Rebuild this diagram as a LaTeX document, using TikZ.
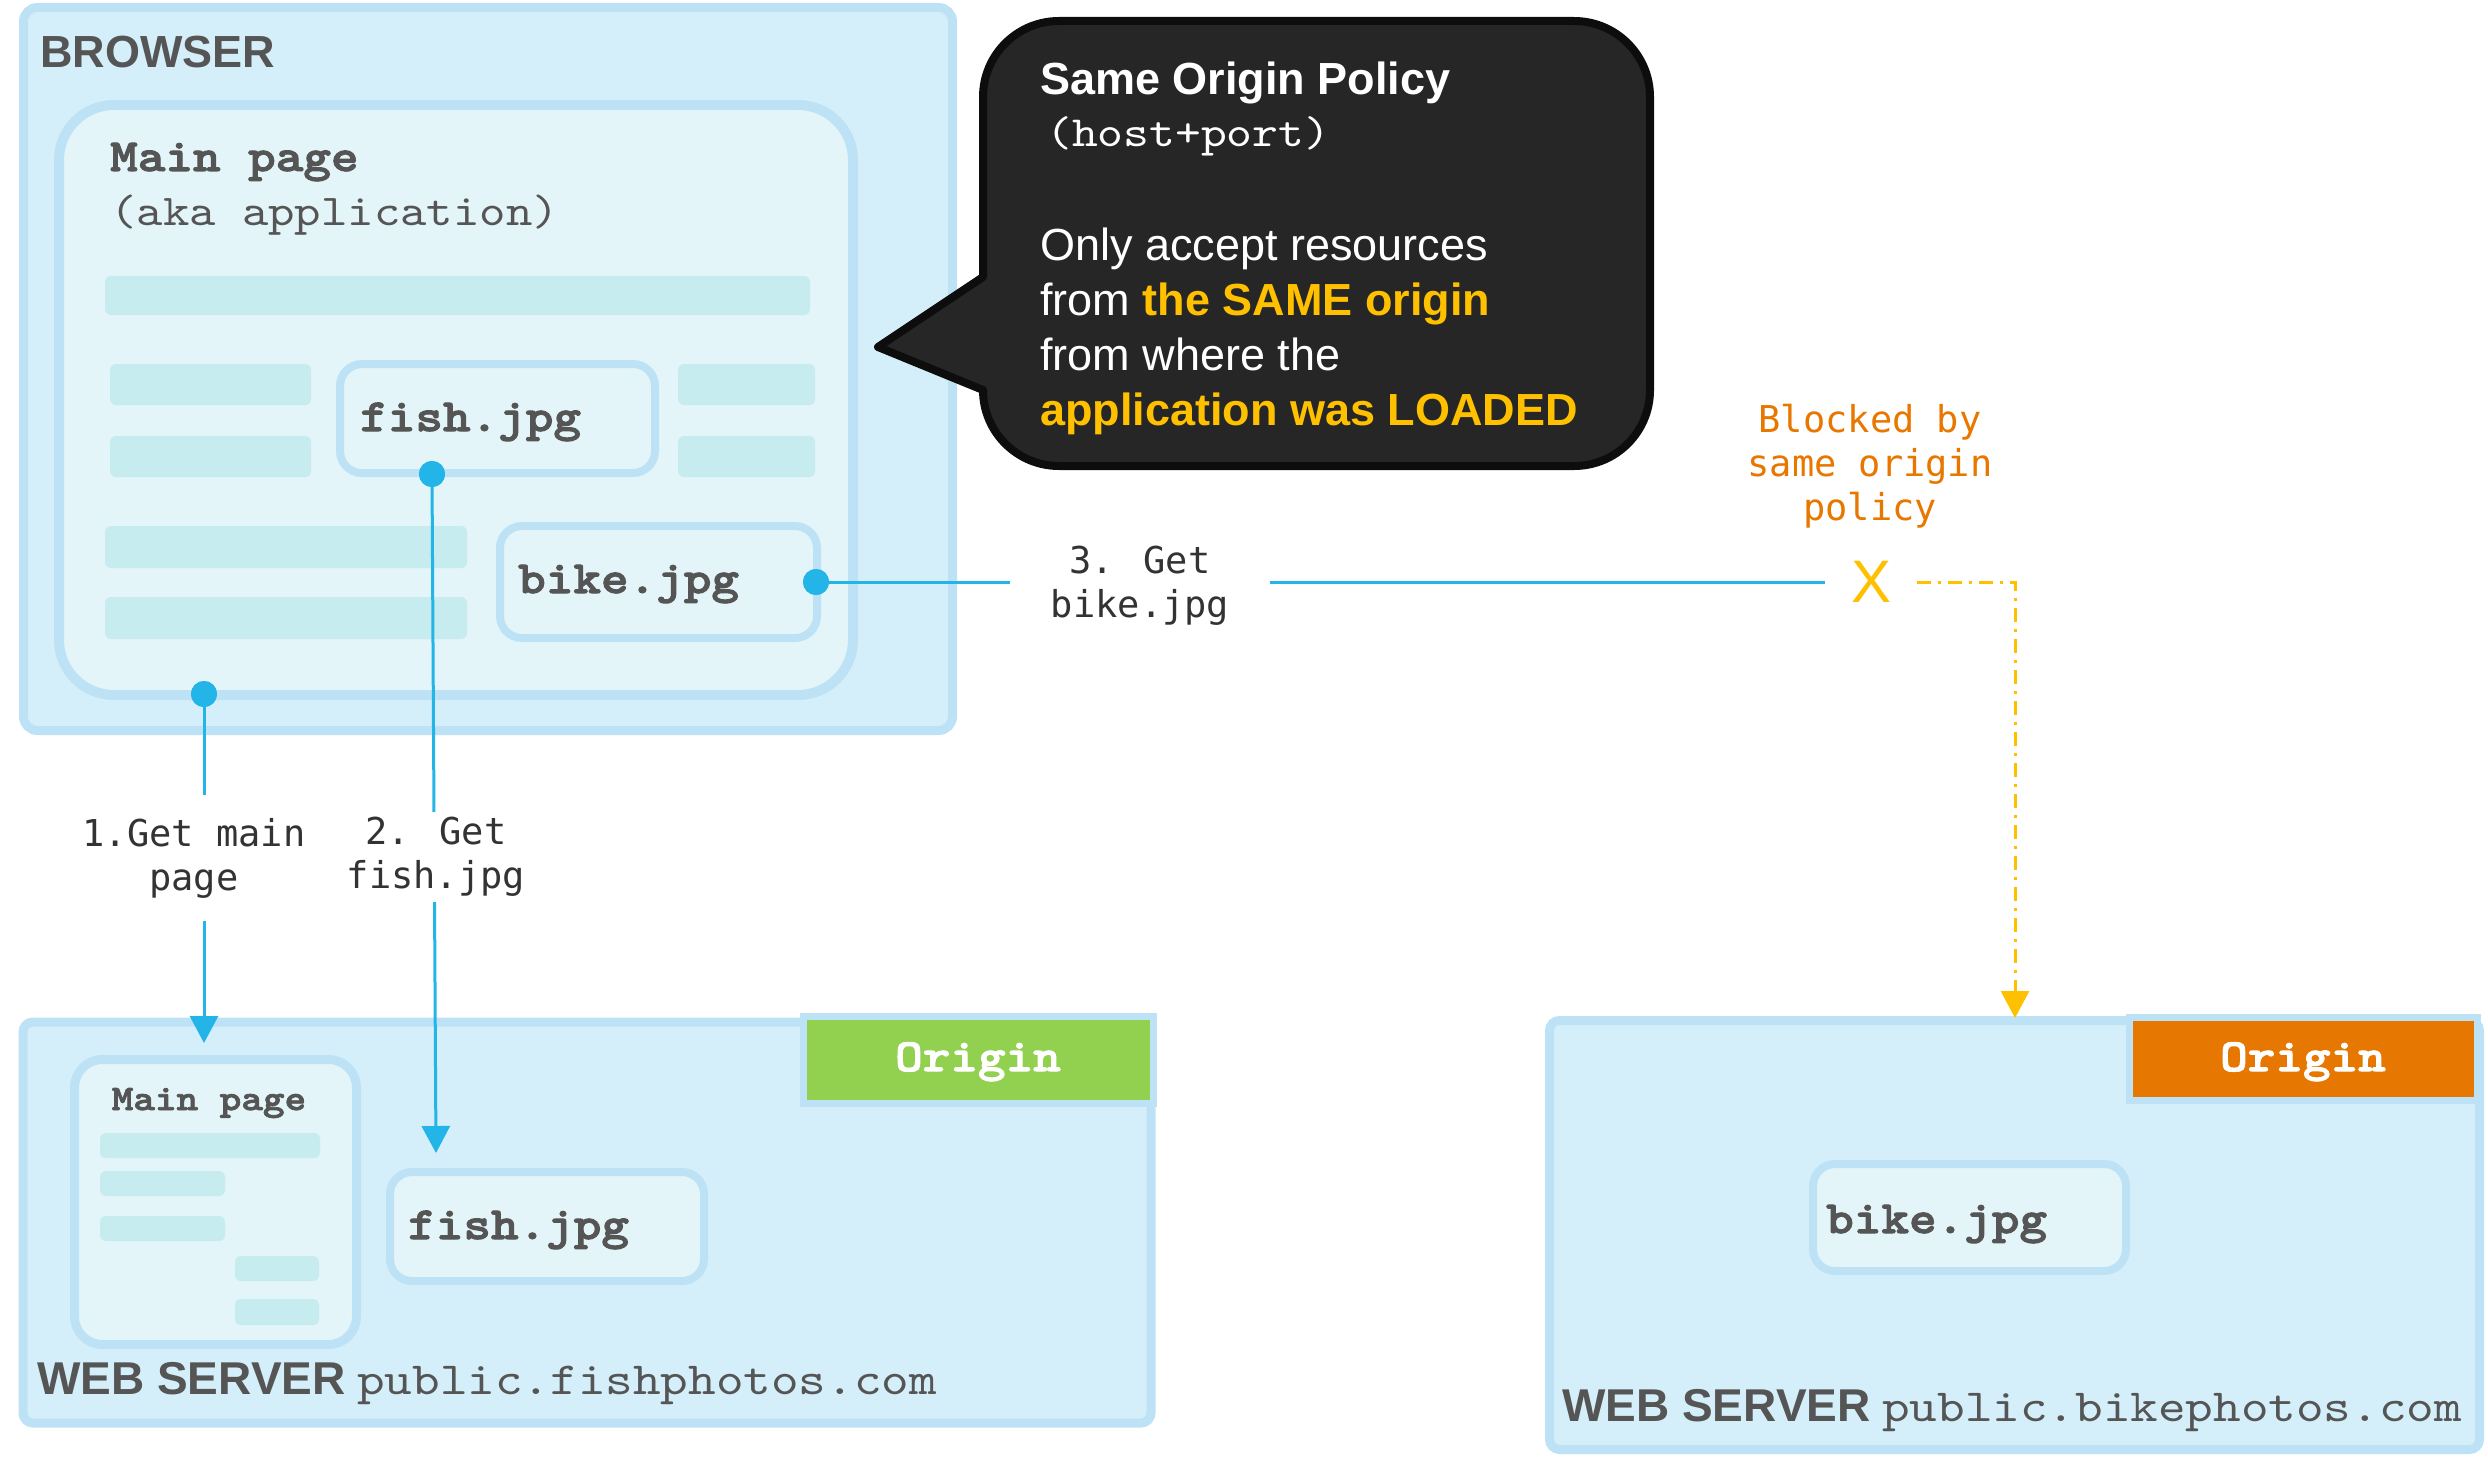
\documentclass[tikz,border=0pt]{standalone}
\usepackage{fontspec}
\setmainfont{Liberation Sans}
\newfontfamily\cmono[Extension=.otf, BoldFont=lmmonolt10-bold, BoldFeatures={FakeBold=2.2}, FakeStretch=1.143]{lmmono10-regular}
\newfontfamily\dmono{DejaVu Sans Mono}
\usetikzlibrary{arrows.meta}
\definecolor{bfill}{HTML}{D4EFF9}
\definecolor{bstroke}{HTML}{BDE2F5}
\definecolor{pfill}{HTML}{E3F5F8}
\definecolor{barc}{HTML}{C6ECF0}
\definecolor{cyanl}{HTML}{23B4E8}
\definecolor{txtg}{HTML}{555555}
\definecolor{lblc}{HTML}{333333}
\definecolor{bubf}{HTML}{262626}
\definecolor{bubs}{HTML}{0D0D0D}
\definecolor{yel}{HTML}{FFC000}
\definecolor{orng}{HTML}{E87700}
\definecolor{grn}{HTML}{92D050}
\definecolor{orbox}{HTML}{E67700}
\begin{document}
\begin{tikzpicture}[x=1pt,y=-1pt,
  outerbox/.style={draw=bstroke, fill=bfill, line width=9pt, rounded corners=14pt, rectangle, inner sep=0},
  pagebox/.style={draw=bstroke, fill=pfill, line width=10pt, rounded corners=55pt, rectangle, inner sep=0},
  filebox/.style={draw=bstroke, fill=pfill, line width=8pt, rounded corners=22pt, rectangle, inner sep=0},
  originbox/.style={draw=bstroke, line width=7pt, rectangle, inner sep=0},
  bar/.style={fill=barc, rounded corners=6pt},
  dot/.style={circle, fill=cyanl, inner sep=0, minimum size=26pt},
  cline/.style={draw=cyanl, line width=3pt},
  tipstyle/.style={-{Triangle[width=28pt,length=27pt]}},
  carrow/.style={cline, tipstyle},
  lbl/.style={font=\dmono\fontsize{37}{44}\selectfont, text=lblc, align=center, fill=white, inner xsep=2pt},
  bigtitle/.style={font=\bfseries\fontsize{46}{55}\selectfont, text=txtg, inner sep=0, anchor=base west},
  monob/.style={font=\cmono\bfseries\fontsize{46}{55}\selectfont, text=txtg, inner sep=0, anchor=base west},
  monor/.style={font=\cmono\fontsize{46}{55}\selectfont, text=txtg, inner sep=0, anchor=base west},
  bubtxt/.style={font=\fontsize{45}{55}\selectfont, text=white, inner sep=0, anchor=base west}
]
\useasboundingbox (0,0) rectangle (2488,1466);

% ---------- BROWSER ----------
\node[outerbox, minimum width=929pt, minimum height=723pt] (browser) at (488,369) {};
\node[bigtitle, font=\bfseries\fontsize{45}{55}\selectfont] (browsertxt) at (40,68) {BROWSER};
\node[pagebox, minimum width=794pt, minimum height=590pt] (mainpage) at (456,400) {};
\node[monob] (mptitle) at (110,171) {Main page};
\node[monor, font=\cmono\fontsize{44}{55}\selectfont] (mpsub) at (110,225) {(aka application)};
\fill[bar] (105,276) rectangle (810,315);
\fill[bar] (110,364) rectangle (311,405);
\fill[bar] (110,436) rectangle (311,477);
\fill[bar] (678,364) rectangle (815,405);
\fill[bar] (678,436) rectangle (815,477);
\fill[bar] (105,526) rectangle (467,568);
\fill[bar] (105,597) rectangle (467,639);
\node[filebox, minimum width=315pt, minimum height=109pt] (bfish) at (497.5,418.5) {};
\node[monob] (bfishtxt) at (360,431) {fish.jpg};
\node[filebox, minimum width=317pt, minimum height=112pt] (bbike) at (658.5,582) {};
\node[monob] (bbiketxt) at (518,593) {bike.jpg};

% ---------- BUBBLE ----------
\draw[fill=bubf, draw=bubs, line width=8pt, line join=round]
  (878,347) -- (983,390) [rounded corners=76pt] -- (983,466) -- (1650,466) -- (1650,21) -- (983,21) [sharp corners] -- (983,277) -- cycle;
\node[bubtxt, font=\bfseries\fontsize{45}{55}\selectfont] (sop) at (1040,95) {Same Origin Policy};
\node[bubtxt, font=\cmono\fontsize{43}{55}\selectfont] (hp) at (1046,147) {(host+port)};
\node[bubtxt] (l1) at (1040,260) {Only accept resources};
\node[bubtxt] (l2) at (1040,315) {from \textcolor{yel}{\bfseries the SAME origin}};
\node[bubtxt] (l3) at (1040,370) {from where the};
\node[bubtxt, text=yel, font=\bfseries\fontsize{45}{55}\selectfont] (l4) at (1040,425) {application was LOADED};

% ---------- LEFT WEB SERVER ----------
\node[outerbox, rounded corners=10pt, minimum width=1128pt, minimum height=401pt] (srv1) at (587,1222.5) {};
\node[originbox, fill=grn, minimum width=350pt, minimum height=87pt] (org1) at (978.5,1060) {};
\node[monob, text=white, anchor=base] (org1txt) at (978,1071) {Origin};
\node[filebox, line width=9pt, rounded corners=28pt, minimum width=282pt, minimum height=285pt] (smain) at (215.5,1202) {};
\node[monob, font=\cmono\bfseries\fontsize{36}{44}\selectfont, anchor=base] (smaintxt) at (209,1110) {Main page};
\fill[bar] (100,1133) rectangle (320,1158);
\fill[bar] (100,1171) rectangle (225,1196);
\fill[bar] (100,1216) rectangle (225,1241);
\fill[bar] (235,1256) rectangle (319,1281);
\fill[bar] (235,1299) rectangle (319,1325);
\node[filebox, minimum width=314pt, minimum height=109pt] (sfish) at (547,1226.5) {};
\node[monob] (sfishtxt) at (408,1239) {fish.jpg};
\node[bigtitle] (ws1) at (37,1394) {WEB SERVER};
\node[monor] (dom1) at (357,1394) {public.fishphotos.com};

% ---------- RIGHT WEB SERVER ----------
\node[outerbox, rounded corners=10pt, minimum width=930pt, minimum height=429pt] (srv2) at (2014.5,1235) {};
\node[originbox, fill=orbox, minimum width=348pt, minimum height=83pt] (org2) at (2303.5,1059) {};
\node[monob, text=white, anchor=base] (org2txt) at (2303,1071) {Origin};
\node[filebox, minimum width=313pt, minimum height=107pt] (sbike) at (1969.5,1217.5) {};
\node[monob] (sbiketxt) at (1826,1233) {bike.jpg};
\node[bigtitle] (ws2) at (1562,1421) {WEB SERVER};
\node[monor] (dom2) at (1882,1421) {public.bikephotos.com};

% ---------- CONNECTORS ----------
\node[dot] (d1) at (204,694) {};
\node[dot] (d2) at (432,474) {};
\node[dot] (d3) at (816,582) {};
\coordinate (t1) at (204,1043);
\coordinate (t2) at (436,1153);
\node[font=\fontsize{60}{60}\selectfont, text=yel, inner xsep=26pt, inner ysep=0pt] (xmark) at (1871,582) {X};
\coordinate (ty) at (2015,1018);

\draw[carrow] (d1.center) -- (t1);
\draw[carrow] (d2.center) -- (t2);
\draw[cline] (d3.center) -- (xmark.west);
\draw[draw=yel, line width=3pt, dash pattern=on 14pt off 7pt on 3pt off 7pt, tipstyle] (xmark.east) -| (ty);

\node[lbl, inner ysep=23pt, anchor=north] (lab1) at (194,795) {1.Get main\\page};
\node[lbl, inner ysep=5pt, anchor=north] (lab2) at (436,812) {2. Get\\fish.jpg};
\node[lbl, inner xsep=41pt, inner ysep=0pt, anchor=north] (lab3) at (1140,546) {3. Get\\bike.jpg};
\node[lbl, fill=none, text=orng, inner sep=0pt, anchor=north] (blk) at (1870,404) {Blocked by\\same origin\\policy};

\node[dot] at (d1) {};
\node[dot] at (d2) {};
\node[dot] at (d3) {};
\end{tikzpicture}
\end{document}
